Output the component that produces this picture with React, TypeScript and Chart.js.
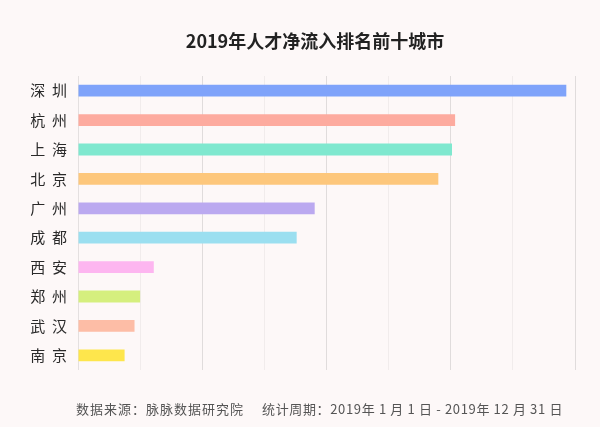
import React, { useEffect, useRef } from "react";
import { Chart, registerables } from "chart.js";

Chart.register(...registerables);

const cities = ["深  圳", "杭  州", "上  海", "北  京", "广  州", "成  都", "西  安", "郑  州", "武  汉", "南  京"];
const values = [7.86, 6.07, 6.02, 5.8, 3.81, 3.52, 1.22, 1.0, 0.91, 0.75];
const barColors = [
  "#7fa3fa",
  "#fdab9f",
  "#7fe8cf",
  "#fdc77c",
  "#bba9f0",
  "#9bdff0",
  "#fdb6f0",
  "#d5ef7e",
  "#fdbda6",
  "#fee64c",
];
const xMin = 0;
const xMax = 8;
const titleText = "2019年人才净流入排名前十城市";
const sourceText = "数据来源：脉脉数据研究院";
const periodText = "统计周期：2019年 1 月 1 日 - 2019年 12 月 31 日";

const FONT = '"Noto Sans CJK SC", "Noto Sans", sans-serif';

const textPlugin = {
  id: "extraTexts",
  afterDraw(chart: any) {
    const ctx = chart.ctx as CanvasRenderingContext2D;
    ctx.save();
    ctx.fillStyle = "#222222";
    ctx.font = `bold 18px ${FONT}`;
    ctx.textAlign = "center";
    ctx.textBaseline = "middle";
    ctx.fillText(titleText, 315, 41);

    ctx.font = `13px ${FONT}`;
    ctx.fillStyle = "#555555";
    ctx.textAlign = "left";
    (ctx as any).letterSpacing = "1px";
    ctx.fillText(sourceText, 76, 409);
    (ctx as any).letterSpacing = "0.65px";
    ctx.fillText(periodText, 262, 409);
    ctx.restore();
  },
};

export default function App() {
  const ref = useRef<HTMLCanvasElement | null>(null);

  useEffect(() => {
    if (!ref.current) return;
    const chart = new Chart(ref.current, {
      type: "bar",
      data: {
        labels: cities,
        datasets: [
          {
            data: values,
            backgroundColor: barColors,
            borderWidth: 0,
            barPercentage: 0.4,
            categoryPercentage: 1,
          },
        ],
      },
      options: {
        indexAxis: "y",
        responsive: false,
        animation: false,
        layout: { padding: { top: 76, bottom: 57, left: 0, right: 25 } },
        plugins: {
          legend: { display: false },
          tooltip: { enabled: false },
          title: { display: false },
        },
        scales: {
          x: {
            min: xMin,
            max: xMax,
            ticks: { stepSize: 1, display: false },
            grid: {
              drawTicks: false,
              lineWidth: 1,
              color: (c: any) =>
                c.index === 0 ? "#e4e0e0" : c.index % 2 === 0 ? "#e0dcdc" : "#f1ecec",
            },
            border: { display: false },
            afterFit: (s: any) => {
              s.height = 0;
            },
          },
          y: {
            grid: { display: false, drawTicks: false },
            border: { display: false },
            ticks: {
              color: "#2a2a2a",
              padding: 11,
              font: { family: FONT, size: 15 },
            },
            afterFit: (s: any) => {
              s.width = 78;
            },
          },
        },
      },
      plugins: [textPlugin],
    });
    return () => chart.destroy();
  }, []);

  return (
    <div
      style={{
        position: "fixed",
        left: 0,
        top: 0,
        width: 600,
        height: 427,
        background: "#fdf8f8",
      }}
    >
      <canvas ref={ref} width={600} height={427} style={{ display: "block" }} />
    </div>
  );
}
